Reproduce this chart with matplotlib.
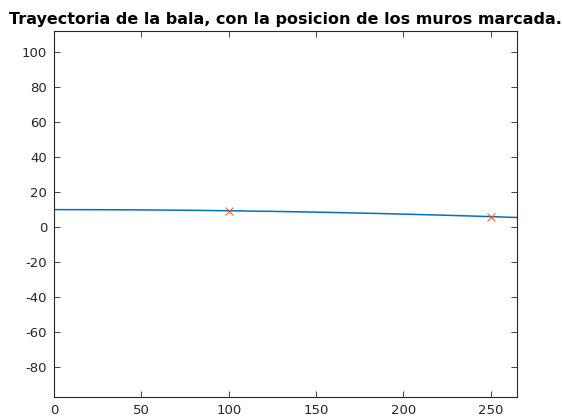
import matplotlib
matplotlib.use("Agg")
import matplotlib.pyplot as plt

plt.rcParams["axes.unicode_minus"] = False

# trayectoria
x_bala = [0, 25, 50, 75, 100, 125, 150, 175, 200, 225, 250, 265]
y_bala = [10.0, 9.96, 9.84, 9.64, 9.36, 9.0, 8.56, 8.04, 7.44, 6.76, 6.0, 5.5]

# posicion de los muros
x_muros = [100, 250]
y_muros = [9.36, 6.0]

xticks = [0, 50, 100, 150, 200, 250]
yticks = [-80, -60, -40, -20, 0, 20, 40, 60, 80, 100]

fig = plt.figure(figsize=(5.63, 4.17), dpi=100)
ax = fig.add_axes([54/563, 1 - 397/417, 463/563, 366/417])

ax.plot(x_bala, y_bala, color="#0072BD", linewidth=1.1)
ax.plot(x_muros, y_muros, linestyle="none", marker="x", color="#D95319",
        markersize=6, markeredgewidth=0.8, alpha=0.85)

ax.set_xlim(0, 265)
ax.set_ylim(-97, 112)
ax.set_xticks(xticks)
ax.set_yticks(yticks)

for s in ax.spines.values():
    s.set_color("#262626")
    s.set_linewidth(0.8)
ax.tick_params(direction="in", top=True, right=True, length=4, width=0.6,
               colors="#262626", labelsize=9.5, pad=5)

ax.set_title("Trayectoria de la bala, con la posicion de los muros marcada.",
             fontsize=11.5, fontweight="bold", pad=5)

fig.savefig("out.png", dpi=100)
